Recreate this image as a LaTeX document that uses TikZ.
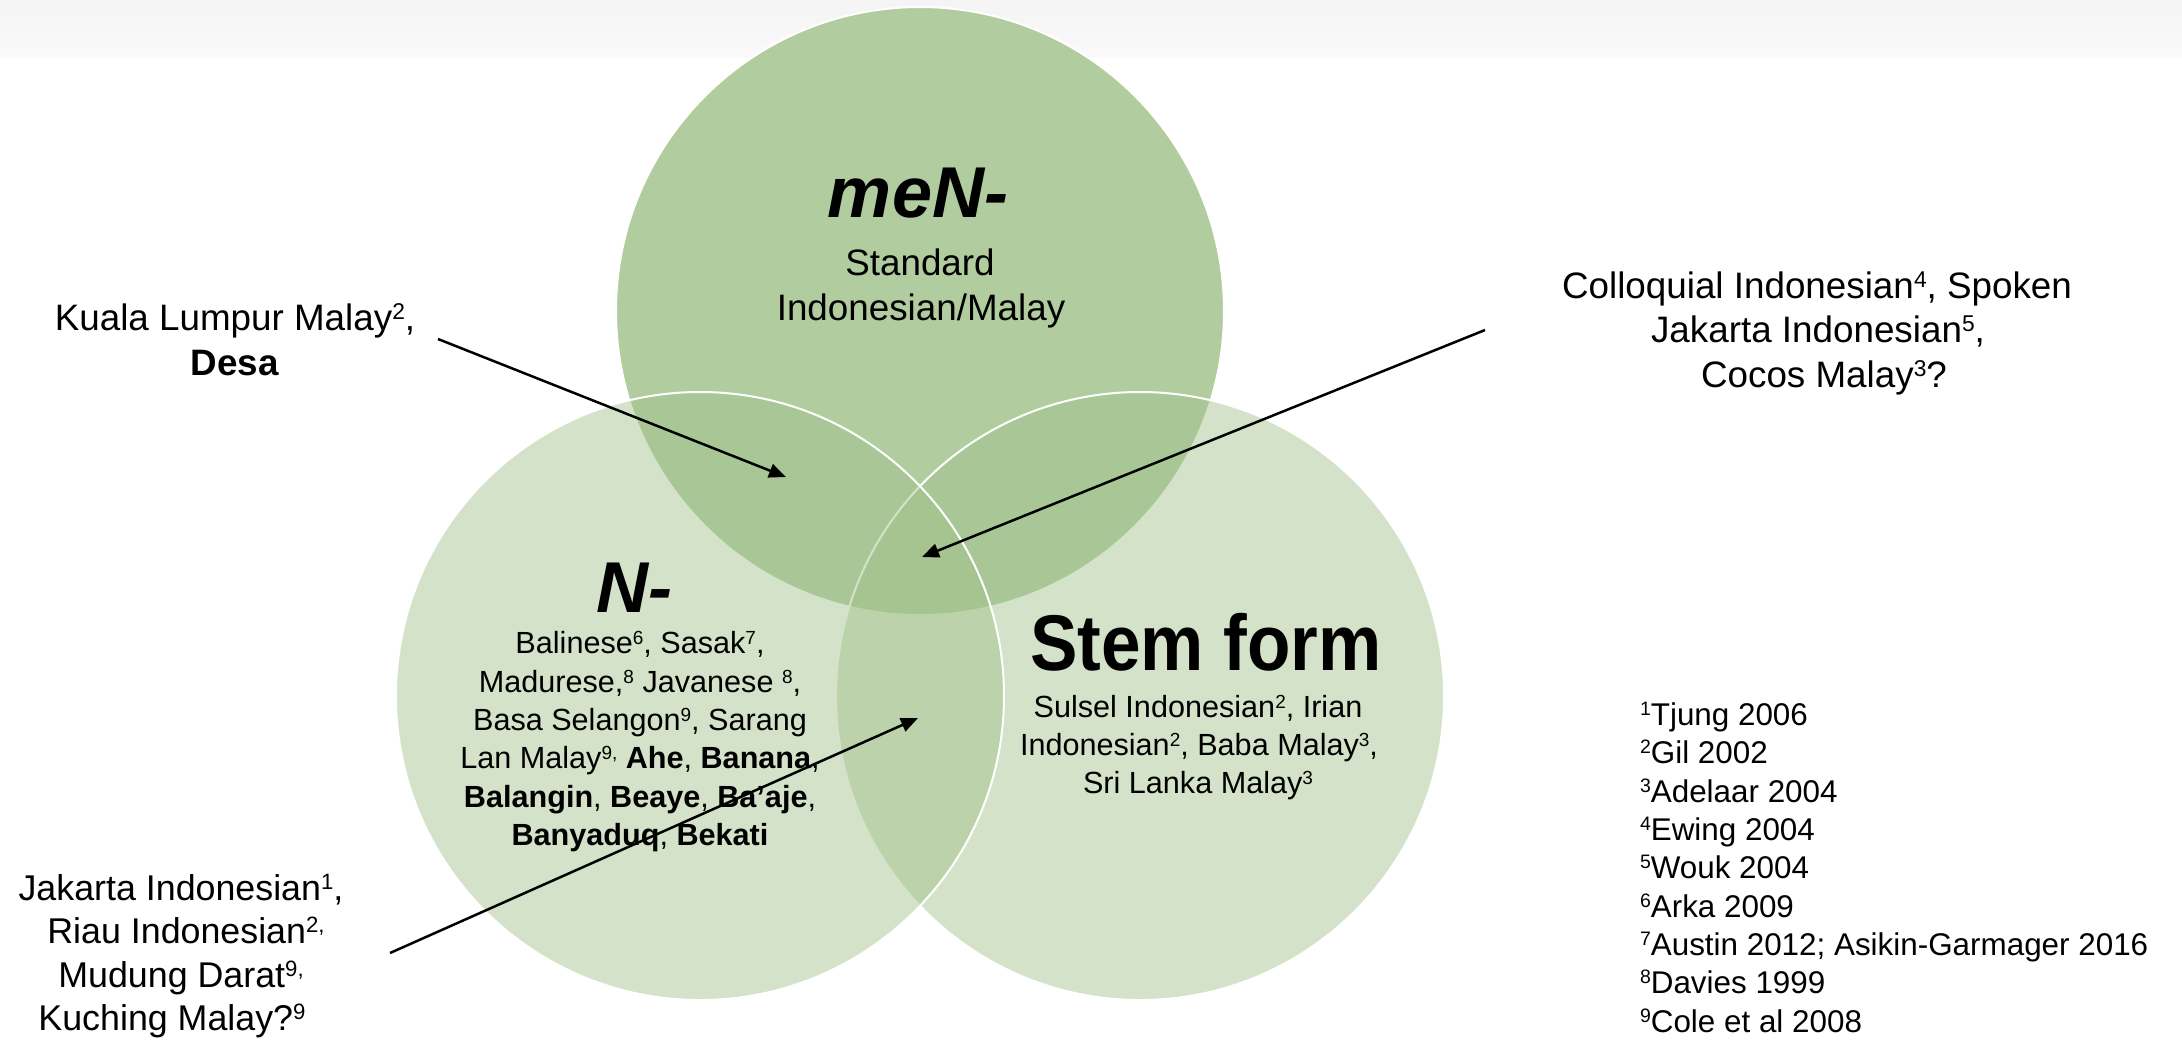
\documentclass[tikz,border=0pt]{standalone}
\usepackage{graphicx}
\usepackage{fontspec}
\setmainfont{Liberation Sans}
\newfontfamily\stemfont{Liberation Sans}[FakeStretch=0.9]
\usetikzlibrary{arrows.meta,shadings}
\definecolor{topfill}{RGB}{177,205,160}
\definecolor{sidefill}{RGB}{162,194,139}
\definecolor{bandtop}{RGB}{244,244,244}
\definecolor{bandbot}{RGB}{250,250,250}
% footnote marks: small digits whose tops line up with the capitals
\newcommand\fn[1]{\raisebox{0.29em}{\scalebox{0.62}{#1}}}
\begin{document}
\begin{tikzpicture}[x=0.5pt,y=-0.5pt,
  vcircle/.style={circle,draw=white,line width=1pt,minimum size=304pt,inner sep=0pt,outer sep=0pt},
  line/.style={anchor=base,inner sep=0pt,outer sep=0pt},
  headfont/.style={font=\fontsize{36pt}{40pt}\selectfont\bfseries\itshape},
  bigfont/.style={font=\fontsize{18.4pt}{22pt}\selectfont},
  midfont/.style={font=\fontsize{17.9pt}{22pt}\selectfont},
  smallfont/.style={font=\fontsize{15.3pt}{19pt}\selectfont},
  reffont/.style={font=\fontsize{15.7pt}{19pt}\selectfont},
  arrowline/.style={line width=1.25pt,-{Triangle[length=8.5pt,width=7pt]}}]
\useasboundingbox (0,0) rectangle (2182,1040);
\fill[white] (0,0) rectangle (2182,1040);
% grey band along the top edge
\fill[top color=bandtop,bottom color=bandbot,draw=none] (0,0) rectangle (2182,57);

% the three sets
\node[vcircle,fill=topfill] (men) at (920,311) {};
\node[vcircle,fill=sidefill,fill opacity=0.47] (stem) at (1140,696) {};
\node[vcircle,fill=sidefill,fill opacity=0.47] (nset) at (700,696) {};

% meN- set
\node[line,headfont] (menTitle) at (918,217) {meN-};
\node[line,bigfont] (menA) at (920,275) {Standard};
\node[line,bigfont] (menB) at (921,320) {Indonesian/Malay};

% N- set
\node[line,headfont] (nTitle) at (634,612) {N-};
\node[line,smallfont] (nA) at (640,653) {Balinese\fn{6}, Sasak\fn{7},};
\node[line,smallfont] (nB) at (640,692) {Madurese,\fn{8} Javanese \fn{8},};
\node[line,smallfont] (nC) at (640,730) {Basa Selangon\fn{9}, Sarang};
\node[line,smallfont] (nD) at (640,768) {Lan Malay\fn{9,} \textbf{Ahe}, \textbf{Banana},};
\node[line,smallfont] (nE) at (640,807) {\textbf{Balangin}, \textbf{Beaye}, \textbf{Ba’aje},};
\node[line,smallfont] (nF) at (640,845) {\textbf{Banyaduq}, \textbf{Bekati}};

% stem form set
\node[line,font=\fontsize{39.5pt}{44pt}\selectfont\stemfont\bfseries] (stemTitle) at (1206,670) {Stem form};
\node[line,smallfont] (stemA) at (1198,717) {Sulsel Indonesian\fn{2}, Irian};
\node[line,smallfont] (stemB) at (1199,755) {Indonesian\fn{2}, Baba Malay\fn{3},};
\node[line,smallfont] (stemC) at (1198,793) {Sri Lanka Malay\fn{3}};

% outside labels
\node[line,bigfont] (klA) at (235,330) {Kuala Lumpur Malay\fn{2},};
\node[line,bigfont] (klB) at (235,375) {\textbf{Desa}};

\node[line,bigfont] (ciA) at (1817,298) {Colloquial Indonesian\fn{4}, Spoken};
\node[line,bigfont] (ciB) at (1818,342) {Jakarta Indonesian\fn{5},};
\node[line,bigfont] (ciC) at (1824,387) {Cocos Malay\fn{3}?};

\node[line,midfont] (jkA) at (181,900) {Jakarta Indonesian\fn{1},};
\node[line,midfont] (jkB) at (186,943) {Riau Indonesian\fn{2,}};
\node[line,midfont] (jkC) at (181,987) {Mudung Darat\fn{9,}};
\node[line,midfont] (jkD) at (172,1030) {Kuching Malay?\fn{9}};

% references
\begin{scope}[every node/.style={line,reffont,anchor=base west}]
\node (r1) at (1640,725) {\fn{1}Tjung 2006};
\node (r2) at (1640,763) {\fn{2}Gil 2002};
\node (r3) at (1640,802) {\fn{3}Adelaar 2004};
\node (r4) at (1640,840) {\fn{4}Ewing 2004};
\node (r5) at (1640,878) {\fn{5}Wouk 2004};
\node (r6) at (1640,917) {\fn{6}Arka 2009};
\node (r7) at (1640,955) {\fn{7}Austin 2012; Asikin-Garmager 2016};
\node (r8) at (1640,993) {\fn{8}Davies 1999};
\node (r9) at (1640,1032) {\fn{9}Cole et al 2008};
\end{scope}

% pointers into the overlaps
\coordinate (klTail) at (438,339);
\coordinate (klTip) at (786,477);
\coordinate (ciTail) at (1485,330);
\coordinate (ciTip) at (922,557);
\coordinate (jkTail) at (390,953);
\coordinate (jkTip) at (918,718);
\draw[arrowline] (klTail) -- (klTip);
\draw[arrowline] (ciTail) -- (ciTip);
\draw[arrowline] (jkTail) -- (jkTip);
\end{tikzpicture}
\end{document}
